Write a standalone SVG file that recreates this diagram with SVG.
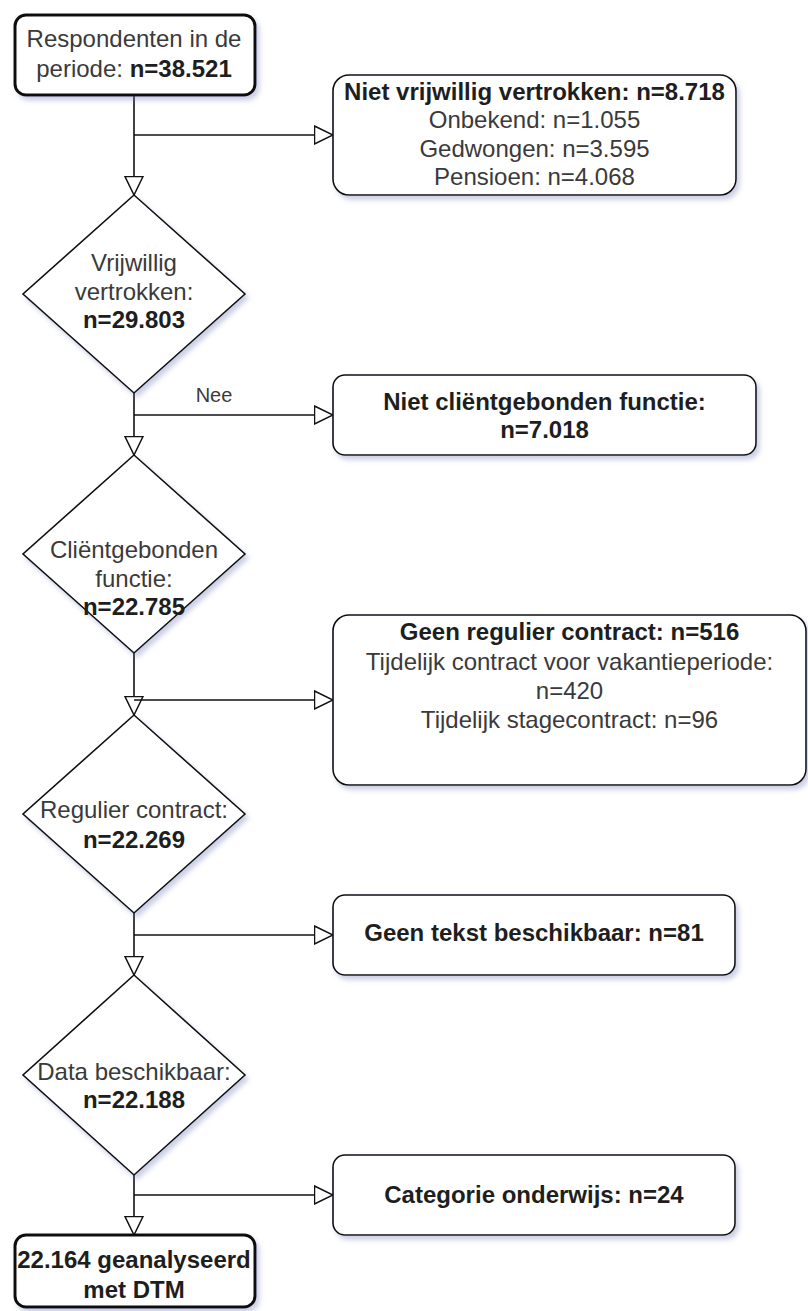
<svg xmlns="http://www.w3.org/2000/svg" width="808" height="1311" viewBox="0 0 808 1311">
<defs>
<filter id="sh" x="-10%" y="-10%" width="130%" height="130%">
<feDropShadow dx="3" dy="4" stdDeviation="2.5" flood-color="#6a76b0" flood-opacity="0.35"/>
</filter>
<marker id="arr" markerUnits="userSpaceOnUse" viewBox="0 0 20 20" markerWidth="20" markerHeight="20" refX="19.5" refY="10" orient="auto">
<path d="M1,1 L19.5,10 L1,19 Z" fill="#fff" stroke="#111" stroke-width="1.5"/>
</marker>
</defs>
<style>
.n{fill:#fff;stroke:#111;stroke-width:1.6;filter:url(#sh)}
.t{stroke-width:3}
.c{fill:none;stroke:#111;stroke-width:1.6;marker-end:url(#arr)}
text{font-family:"Liberation Sans",Arial,Helvetica,sans-serif;font-size:24px;fill:#3a3a3a;text-anchor:middle}
.b{font-weight:bold;fill:#1e1e1e}
.lbl{font-size:20px}
</style>
<rect width="808" height="1311" fill="#fff"/>
<g id="connectors">
<path class="c" d="M134,96 V195"/>
<path class="c" d="M134,135 H333"/>
<path class="c" d="M134,393 V455"/>
<path class="c" d="M134,415 H333"/>
<path class="c" d="M134,653 V715"/>
<path class="c" d="M134,700 H333"/>
<path class="c" d="M134,913 V975"/>
<path class="c" d="M134,935 H333"/>
<path class="c" d="M134,1175 V1235"/>
<path class="c" d="M134,1195 H333"/>
<text class="lbl" x="214" y="402">Nee</text>
</g>
<g id="start">
<rect class="n t" x="15" y="15" width="240" height="80" rx="11"/>
<text x="134" y="47">Respondenten in de</text>
<text x="134" y="77">periode: <tspan class="b">n=38.521</tspan></text>
</g>
<g id="niet-vrijwillig">
<rect class="n" x="333" y="75" width="403" height="120" rx="16"/>
<text class="b" x="534.5" y="100">Niet vrijwillig vertrokken: n=8.718</text>
<text x="534.5" y="128">Onbekend: n=1.055</text>
<text x="534.5" y="157">Gedwongen: n=3.595</text>
<text x="534.5" y="185">Pensioen: n=4.068</text>
</g>
<g id="vrijwillig">
<polygon class="n" points="134,195 245,294 134,393 23,294"/>
<text x="134" y="271">Vrijwillig</text>
<text x="134" y="300">vertrokken:</text>
<text class="b" x="134" y="328">n=29.803</text>
</g>
<g id="niet-clientgebonden">
<rect class="n" x="333" y="375" width="423" height="80" rx="12"/>
<text class="b" x="544.5" y="410">Niet cliëntgebonden functie:</text>
<text class="b" x="544.5" y="438">n=7.018</text>
</g>
<g id="clientgebonden">
<polygon class="n" points="134,455 245,554 134,653 23,554"/>
<text x="134" y="558">Cliëntgebonden</text>
<text x="134" y="587">functie:</text>
<text class="b" x="134" y="615">n=22.785</text>
</g>
<g id="geen-regulier">
<rect class="n" x="333" y="615" width="473" height="170" rx="16"/>
<text class="b" x="569.5" y="640">Geen regulier contract: n=516</text>
<text x="569.5" y="670">Tijdelijk contract voor vakantieperiode:</text>
<text x="569.5" y="699">n=420</text>
<text x="569.5" y="728">Tijdelijk stagecontract: n=96</text>
</g>
<g id="regulier">
<polygon class="n" points="134,715 245,814 134,913 23,814"/>
<text x="134" y="818">Regulier contract:</text>
<text class="b" x="134" y="848">n=22.269</text>
</g>
<g id="geen-tekst">
<rect class="n" x="333" y="895" width="402" height="80" rx="12"/>
<text class="b" x="534" y="941">Geen tekst beschikbaar: n=81</text>
</g>
<g id="data-beschikbaar">
<polygon class="n" points="134,975 245,1075 134,1175 23,1075"/>
<text x="134" y="1080">Data beschikbaar:</text>
<text class="b" x="134" y="1108">n=22.188</text>
</g>
<g id="categorie-onderwijs">
<rect class="n" x="333" y="1155" width="402" height="80" rx="12"/>
<text class="b" x="534" y="1203">Categorie onderwijs: n=24</text>
</g>
<g id="geanalyseerd">
<rect class="n t" x="15" y="1235" width="240" height="72" rx="11"/>
<text class="b" x="134" y="1268">22.164 geanalyseerd</text>
<text class="b" x="134" y="1298">met DTM</text>
</g>
</svg>
